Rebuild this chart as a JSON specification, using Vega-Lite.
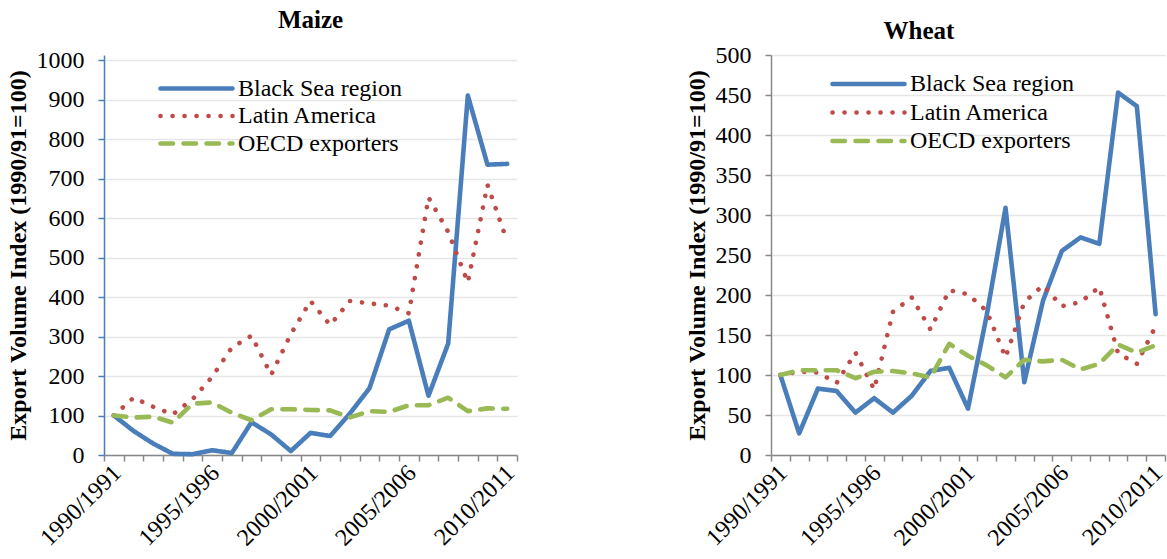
{
  "$schema": "https://vega.github.io/schema/vega-lite/v6.json",
  "background": "white",
  "padding": {"left": 6, "top": 8, "right": 0, "bottom": 0},
  "bounds": "flush",
  "spacing": 254,
  "config": {
    "font": "Liberation Serif",
    "view": {"stroke": null}
  },
  "datasets": {
    "maize": [
      {"season": "1990/1991", "year": 1990, "Black Sea region": 100, "Latin America": 100, "OECD exporters": 100},
      {"season": "1991/1992", "year": 1991, "Black Sea region": 61, "Latin America": 145, "OECD exporters": 95},
      {"season": "1992/1993", "year": 1992, "Black Sea region": 29, "Latin America": 122, "OECD exporters": 97},
      {"season": "1993/1994", "year": 1993, "Black Sea region": 3, "Latin America": 103, "OECD exporters": 82},
      {"season": "1994/1995", "year": 1994, "Black Sea region": 2, "Latin America": 141, "OECD exporters": 130},
      {"season": "1995/1996", "year": 1995, "Black Sea region": 12, "Latin America": 198, "OECD exporters": 133},
      {"season": "1996/1997", "year": 1996, "Black Sea region": 5, "Latin America": 272, "OECD exporters": 107},
      {"season": "1997/1998", "year": 1997, "Black Sea region": 83, "Latin America": 302, "OECD exporters": 88},
      {"season": "1998/1999", "year": 1998, "Black Sea region": 52, "Latin America": 203, "OECD exporters": 116},
      {"season": "1999/2000", "year": 1999, "Black Sea region": 10, "Latin America": 306, "OECD exporters": 116},
      {"season": "2000/2001", "year": 2000, "Black Sea region": 56, "Latin America": 390, "OECD exporters": 114},
      {"season": "2001/2002", "year": 2001, "Black Sea region": 48, "Latin America": 329, "OECD exporters": 113},
      {"season": "2002/2003", "year": 2002, "Black Sea region": 105, "Latin America": 390, "OECD exporters": 95},
      {"season": "2003/2004", "year": 2003, "Black Sea region": 169, "Latin America": 384, "OECD exporters": 111},
      {"season": "2004/2005", "year": 2004, "Black Sea region": 318, "Latin America": 378, "OECD exporters": 109},
      {"season": "2005/2006", "year": 2005, "Black Sea region": 340, "Latin America": 359, "OECD exporters": 126},
      {"season": "2006/2007", "year": 2006, "Black Sea region": 150, "Latin America": 652, "OECD exporters": 126},
      {"season": "2007/2008", "year": 2007, "Black Sea region": 282, "Latin America": 565, "OECD exporters": 145},
      {"season": "2008/2009", "year": 2008, "Black Sea region": 910, "Latin America": 437, "OECD exporters": 111},
      {"season": "2009/2010", "year": 2009, "Black Sea region": 735, "Latin America": 684, "OECD exporters": 118},
      {"season": "2010/2011", "year": 2010, "Black Sea region": 737, "Latin America": 541, "OECD exporters": 117}
    ],
    "wheat": [
      {"season": "1990/1991", "year": 1990, "Black Sea region": 100, "Latin America": 100, "OECD exporters": 100},
      {"season": "1991/1992", "year": 1991, "Black Sea region": 27, "Latin America": 104, "OECD exporters": 106},
      {"season": "1992/1993", "year": 1992, "Black Sea region": 83, "Latin America": 103, "OECD exporters": 106},
      {"season": "1993/1994", "year": 1993, "Black Sea region": 80, "Latin America": 90, "OECD exporters": 106},
      {"season": "1994/1995", "year": 1994, "Black Sea region": 53, "Latin America": 128, "OECD exporters": 96},
      {"season": "1995/1996", "year": 1995, "Black Sea region": 71, "Latin America": 82, "OECD exporters": 104},
      {"season": "1996/1997", "year": 1996, "Black Sea region": 53, "Latin America": 179, "OECD exporters": 105},
      {"season": "1997/1998", "year": 1997, "Black Sea region": 74, "Latin America": 197, "OECD exporters": 102},
      {"season": "1998/1999", "year": 1998, "Black Sea region": 105, "Latin America": 157, "OECD exporters": 97},
      {"season": "1999/2000", "year": 1999, "Black Sea region": 109, "Latin America": 206, "OECD exporters": 139},
      {"season": "2000/2001", "year": 2000, "Black Sea region": 58, "Latin America": 201, "OECD exporters": 124},
      {"season": "2001/2002", "year": 2001, "Black Sea region": 175, "Latin America": 180, "OECD exporters": 112},
      {"season": "2002/2003", "year": 2002, "Black Sea region": 309, "Latin America": 122, "OECD exporters": 97},
      {"season": "2003/2004", "year": 2003, "Black Sea region": 91, "Latin America": 191, "OECD exporters": 119},
      {"season": "2004/2005", "year": 2004, "Black Sea region": 193, "Latin America": 212, "OECD exporters": 117},
      {"season": "2005/2006", "year": 2005, "Black Sea region": 255, "Latin America": 186, "OECD exporters": 119},
      {"season": "2006/2007", "year": 2006, "Black Sea region": 272, "Latin America": 191, "OECD exporters": 107},
      {"season": "2007/2008", "year": 2007, "Black Sea region": 264, "Latin America": 210, "OECD exporters": 114},
      {"season": "2008/2009", "year": 2008, "Black Sea region": 453, "Latin America": 127, "OECD exporters": 138},
      {"season": "2009/2010", "year": 2009, "Black Sea region": 436, "Latin America": 114, "OECD exporters": 128},
      {"season": "2010/2011", "year": 2010, "Black Sea region": 176, "Latin America": 161, "OECD exporters": 137}
    ]
  },
  "hconcat": [
    {
      "width": 413,
      "height": 400,
      "title": {"text": "Maize", "font": "Liberation Serif", "fontSize": 25, "fontWeight": "bold", "color": "black", "anchor": "middle", "baseline": "alphabetic", "offset": -5},
      "data": {"name": "maize"},
      "transform": [{"fold": ["Black Sea region", "Latin America", "OECD exporters"], "as": ["series", "value"]}],
      "mark": {"type": "line", "strokeWidth": 4.6, "strokeCap": "round", "strokeJoin": "round"},
      "encoding": {
        "x": {
          "field": "year", "type": "quantitative",
          "scale": {"domain": [1989.5, 2010.5], "nice": false, "zero": false},
          "axis": {
            "title": null, "grid": false,
            "values": [1989.5, 1990.5, 1991.5, 1992.5, 1993.5, 1994.5, 1995.5, 1996.5, 1997.5, 1998.5, 1999.5, 2000.5, 2001.5, 2002.5, 2003.5, 2004.5, 2005.5, 2006.5, 2007.5, 2008.5, 2009.5, 2010.5],
            "labelExpr": "(datum.value + 0.5) % 5 == 0 && datum.value < 2010.6 ? (datum.value + 0.5) + '/' + (datum.value + 1.5) : ''",
            "labelFont": "Liberation Serif", "labelFontSize": 24, "labelColor": "black",
            "labelAngle": -45, "labelAlign": "right", "labelBaseline": "middle",
            "labelOffset": 13, "labelPadding": 8,
            "labelOverlap": false, "labelBound": false, "labelFlush": false,
            "tickSize": 6, "tickColor": "#888888", "tickWidth": 1.5,
            "domainColor": "#888888", "domainWidth": 1.5
          }
        },
        "y": {
          "field": "value", "type": "quantitative",
          "scale": {"domain": [0, 1012.66], "nice": false},
          "axis": {
            "title": "Export Volume Index (1990/91=100)",
            "titleFont": "Liberation Serif", "titleColor": "black",
            "titleFontSize": 24, "titleFontWeight": "bold", "titlePadding": 6,
            "values": [0, 100, 200, 300, 400, 500, 600, 700, 800, 900, 1000],
            "format": "d",
            "labelFont": "Liberation Serif", "labelFontSize": 24, "labelColor": "black",
            "grid": true, "gridColor": "#e6e6e6", "gridWidth": 1.5,
            "domainColor": "#4a7ebb", "domainWidth": 1.5,
            "tickColor": "#4a7ebb", "tickWidth": 1.5, "tickSize": 6,
            "labelPadding": 14
          }
        },
        "color": {
          "field": "series", "type": "nominal",
          "scale": {"domain": ["Black Sea region", "Latin America", "OECD exporters"], "range": ["#4a7ebb", "#be4b48", "#98b954"]},
          "legend": {"title": null, "orient": "none", "legendX": 54, "legendY": 22, "padding": 0, "symbolType": "stroke", "symbolSize": 5184, "symbolStrokeWidth": 4.6, "clipHeight": 23, "rowPadding": 2.5, "labelOffset": 3, "labelFont": "Liberation Serif", "labelFontSize": 24, "labelColor": "black", "labelLimit": 400,
            "encode": {"symbols": {"update": {"strokeCap": {"value": "round"}}}}}
        },
        "strokeDash": {
          "field": "series", "type": "nominal",
          "scale": {"domain": ["Black Sea region", "Latin America", "OECD exporters"], "range": [[1, 0], [0.1, 11.9], [12.5, 10.5]]},
          "legend": {"title": null, "orient": "none", "legendX": 54, "legendY": 22, "padding": 0, "symbolType": "stroke", "symbolSize": 5184, "symbolStrokeWidth": 4.6, "clipHeight": 23, "rowPadding": 2.5, "labelOffset": 3, "labelFont": "Liberation Serif", "labelFontSize": 24, "labelColor": "black", "labelLimit": 400,
            "encode": {"symbols": {"update": {"strokeCap": {"value": "round"}}}}}
        }
      }
    },
    {
      "width": 394,
      "height": 400,
      "title": {"text": "Wheat", "font": "Liberation Serif", "fontSize": 25, "fontWeight": "bold", "color": "black", "anchor": "middle", "baseline": "alphabetic", "offset": -21, "dx": -49},
      "data": {"name": "wheat"},
      "transform": [{"fold": ["Black Sea region", "Latin America", "OECD exporters"], "as": ["series", "value"]}],
      "mark": {"type": "line", "strokeWidth": 4.6, "strokeCap": "round", "strokeJoin": "round"},
      "encoding": {
        "x": {
          "field": "year", "type": "quantitative",
          "scale": {"domain": [1989.5, 2010.5], "nice": false, "zero": false},
          "axis": {
            "title": null, "grid": false,
            "values": [1989.5, 1990.5, 1991.5, 1992.5, 1993.5, 1994.5, 1995.5, 1996.5, 1997.5, 1998.5, 1999.5, 2000.5, 2001.5, 2002.5, 2003.5, 2004.5, 2005.5, 2006.5, 2007.5, 2008.5, 2009.5, 2010.5],
            "labelExpr": "(datum.value + 0.5) % 5 == 0 && datum.value < 2010.6 ? (datum.value + 0.5) + '/' + (datum.value + 1.5) : ''",
            "labelFont": "Liberation Serif", "labelFontSize": 24, "labelColor": "black",
            "labelAngle": -45, "labelAlign": "right", "labelBaseline": "middle",
            "labelOffset": 12, "labelPadding": 8,
            "labelOverlap": false, "labelBound": false, "labelFlush": false,
            "tickSize": 6, "tickColor": "#888888", "tickWidth": 1.5,
            "domainColor": "#888888", "domainWidth": 1.5
          }
        },
        "y": {
          "field": "value", "type": "quantitative",
          "scale": {"domain": [0, 500], "nice": false},
          "axis": {
            "title": "Export Volume Index (1990/91=100)",
            "titleFont": "Liberation Serif", "titleColor": "black",
            "titleFontSize": 24, "titleFontWeight": "bold", "titlePadding": 6,
            "values": [0, 50, 100, 150, 200, 250, 300, 350, 400, 450, 500],
            "format": "d",
            "labelFont": "Liberation Serif", "labelFontSize": 24, "labelColor": "black",
            "grid": true, "gridColor": "#e6e6e6", "gridWidth": 1.5,
            "domainColor": "#888888", "domainWidth": 1.5,
            "tickColor": "#888888", "tickWidth": 1.5, "tickSize": 6,
            "labelPadding": 14
          }
        },
        "color": {
          "field": "series", "type": "nominal",
          "scale": {"domain": ["Black Sea region", "Latin America", "OECD exporters"], "range": ["#4a7ebb", "#be4b48", "#98b954"]},
          "legend": {"title": null, "orient": "none", "legendX": 59, "legendY": 17.5, "padding": 0, "symbolType": "stroke", "symbolSize": 5184, "symbolStrokeWidth": 4.6, "clipHeight": 23, "rowPadding": 3.5, "labelOffset": 3, "labelFont": "Liberation Serif", "labelFontSize": 24, "labelColor": "black", "labelLimit": 400,
            "encode": {"symbols": {"update": {"strokeCap": {"value": "round"}}}}}
        },
        "strokeDash": {
          "field": "series", "type": "nominal",
          "scale": {"domain": ["Black Sea region", "Latin America", "OECD exporters"], "range": [[1, 0], [0.1, 11.9], [12.5, 10.5]]},
          "legend": {"title": null, "orient": "none", "legendX": 59, "legendY": 17.5, "padding": 0, "symbolType": "stroke", "symbolSize": 5184, "symbolStrokeWidth": 4.6, "clipHeight": 23, "rowPadding": 3.5, "labelOffset": 3, "labelFont": "Liberation Serif", "labelFontSize": 24, "labelColor": "black", "labelLimit": 400,
            "encode": {"symbols": {"update": {"strokeCap": {"value": "round"}}}}}
        }
      }
    }
  ],
  "resolve": {"scale": {"color": "independent", "strokeDash": "independent", "x": "independent", "y": "independent"}}
}
